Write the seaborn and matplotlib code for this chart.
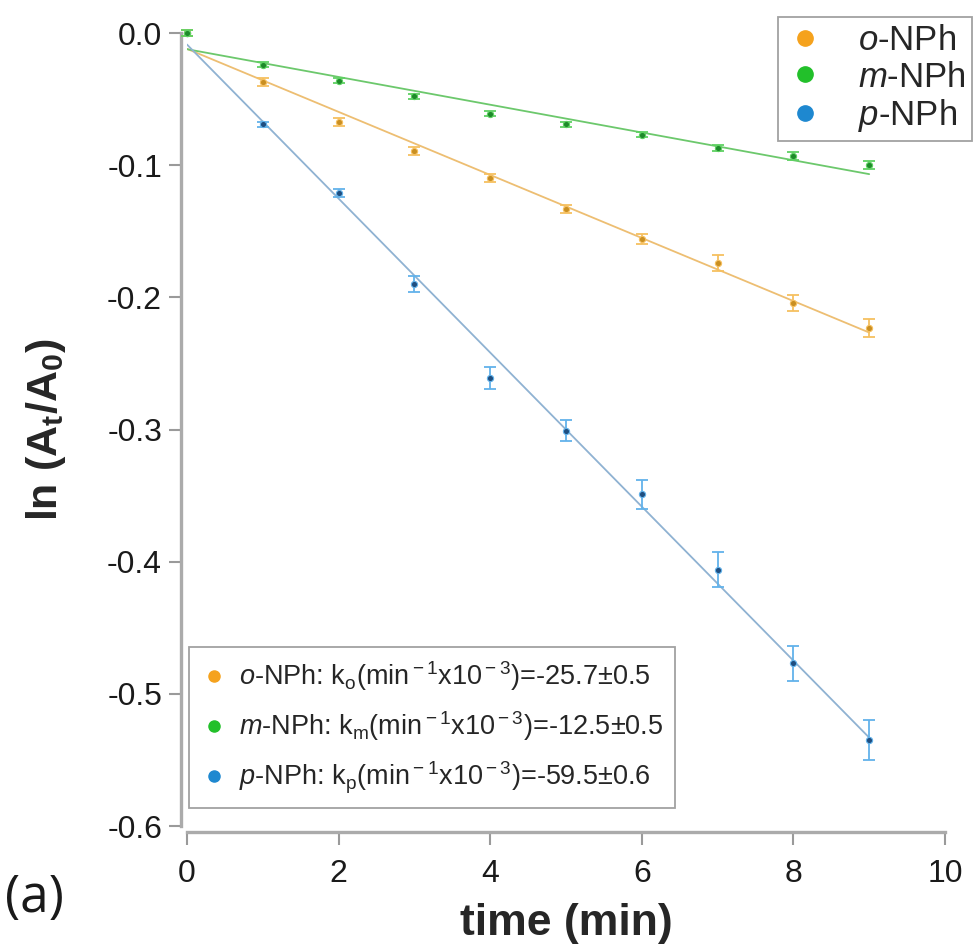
import numpy as np
import pandas as pd
import matplotlib
matplotlib.use("Agg")
import matplotlib.pyplot as plt
from matplotlib.lines import Line2D
import seaborn as sns

sns.set_theme(style="white")
matplotlib.rcParams.update({
    "font.family": ["Liberation Sans", "DejaVu Sans"],
    "mathtext.fontset": "custom",
    "mathtext.rm": "Liberation Sans",
    "mathtext.it": "Liberation Sans:italic",
    "mathtext.bf": "Liberation Sans:bold",
    "axes.unicode_minus": False,
})

# ── data ─────────────────────────────────────────────────────────────────────
time_min = [0, 1, 2, 3, 4, 5, 6, 7, 8, 9]

o_nph = [0.0, -0.037, -0.067, -0.089, -0.110, -0.133, -0.156, -0.174, -0.204, -0.223]
o_err = [0.002, 0.003, 0.003, 0.003, 0.003, 0.003, 0.004, 0.006, 0.006, 0.007]

m_nph = [0.0, -0.024, -0.036, -0.048, -0.061, -0.069, -0.077, -0.087, -0.093, -0.100]
m_err = [0.002, 0.002, 0.002, 0.002, 0.002, 0.002, 0.002, 0.002, 0.003, 0.003]

p_nph = [0.0, -0.069, -0.121, -0.190, -0.261, -0.301, -0.349, -0.406, -0.477, -0.535]
p_err = [0.002, 0.002, 0.003, 0.006, 0.008, 0.008, 0.011, 0.013, 0.013, 0.015]

series_names = ["o-NPh", "m-NPh", "p-NPh"]
legend_labels = [r"$\it{o}$-NPh", r"$\it{m}$-NPh", r"$\it{p}$-NPh"]
fit_labels = [
    r"$\it{o}$-NPh: k$_{\rm o}$(min$^{\rm -1}$x10$^{\rm -3}$)=-25.7±0.5",
    r"$\it{m}$-NPh: k$_{\rm m}$(min$^{\rm -1}$x10$^{\rm -3}$)=-12.5±0.5",
    r"$\it{p}$-NPh: k$_{\rm p}$(min$^{\rm -1}$x10$^{\rm -3}$)=-59.5±0.6",
]

# series colours: legend dot, marker, error bar, fit line
DOT = ["#F5A21D", "#22C02A", "#1E88D0"]
MARK = ["#C98F22", "#1E8A2A", "#1F4E80"]
ERR = ["#F6C060", "#5FD163", "#62B2EA"]
FIT = ["#EDBE72", "#6CC86C", "#8FB2D2"]
# draw order: green on top (its t=0 point is the one visible)
LAYER = [2, 3, 1]

df = pd.concat([
    pd.DataFrame({"time": time_min, "lnA": vals, "err": errs, "series": name})
    for name, vals, errs in zip(series_names, [o_nph, m_nph, p_nph],
                                [o_err, m_err, p_err])
], ignore_index=True)

# ── figure ───────────────────────────────────────────────────────────────────
fig = plt.figure(figsize=(9.75, 9.46), dpi=100)
ax = fig.add_axes([0.1918, 0.1268, 0.7774, 0.8383])

for i, name in enumerate(series_names):
    sub = df[df["series"] == name]
    z = LAYER[i]
    sns.regplot(data=sub, x="time", y="lnA", scatter=False, ci=None,
                color=FIT[i], line_kws={"linewidth": 1.3, "zorder": 2}, ax=ax)
    ax.errorbar(sub["time"], sub["lnA"], yerr=sub["err"], fmt="none",
                ecolor=ERR[i], elinewidth=1.3, capsize=4, capthick=1.3,
                clip_on=False, zorder=3 + 2 * z)
    sns.scatterplot(data=sub, x="time", y="lnA", color=MARK[i], s=20,
                    edgecolor=ERR[i], linewidth=0.8, ax=ax, zorder=4 + 2 * z,
                    clip_on=False, legend=False)

ax.set_xlim(0, 10)
ax.set_ylim(-0.6, 0.0)
ax.set_xticks([0, 2, 4, 6, 8, 10])
ax.set_yticks([0.0, -0.1, -0.2, -0.3, -0.4, -0.5, -0.6])
ax.set_yticklabels(["0.0", "-0.1", "-0.2", "-0.3", "-0.4", "-0.5", "-0.6"])

for side in ["top", "right"]:
    ax.spines[side].set_visible(False)
for side in ["left", "bottom"]:
    ax.spines[side].set_color("#ABABAB")
    ax.spines[side].set_linewidth(2.4)
    ax.spines[side].set_position(("outward", 4))

ax.tick_params(axis="both", direction="out", length=9, width=1.5,
               color="#9A9A9A", labelsize=23, labelcolor="#1A1A1A", pad=5,
               left=True, bottom=True)
ax.tick_params(axis="x", pad=11)

ax.set_xlabel("time (min)", fontsize=32, fontweight="bold", labelpad=10)
ax.set_ylabel(r"ln (A$_{\bf t}$/A$_{\bf 0}$)", fontsize=31, fontweight="bold",
              labelpad=28)

# legend with series names (top right)
h1 = [Line2D([], [], linestyle="none", marker="o", markersize=11,
             markerfacecolor=c, markeredgecolor=c) for c in DOT]
leg1 = ax.legend(h1, legend_labels, loc="upper right",
                 bbox_to_anchor=(1.036, 1.02), borderaxespad=0,
                 fontsize=25, frameon=True, fancybox=False,
                 handletextpad=0.9, labelspacing=0.1, borderpad=0.2,
                 handlelength=1.2)
leg1.get_frame().set_edgecolor("#8A8A8A")
leg1.get_frame().set_linewidth(1.3)
ax.add_artist(leg1)

# legend with rate constants (bottom left)
h2 = [Line2D([], [], linestyle="none", marker="o", markersize=8,
             markerfacecolor=c, markeredgecolor=c) for c in DOT]
leg2 = ax.legend(h2, fit_labels, loc="lower left",
                 bbox_to_anchor=(0.002, 0.023), borderaxespad=0,
                 fontsize=19.5, frameon=True, fancybox=False,
                 handletextpad=0.4, labelspacing=0.6, borderpad=0.45,
                 handlelength=1.0)
leg2.get_frame().set_edgecolor("#8A8A8A")
leg2.get_frame().set_linewidth(1.3)

fig.text(0.005, 0.036, "(a)", fontsize=37, family=["Open Sans", "DejaVu Sans"],
         color="#1A1A1A")

fig.savefig("out.png", dpi=100)
